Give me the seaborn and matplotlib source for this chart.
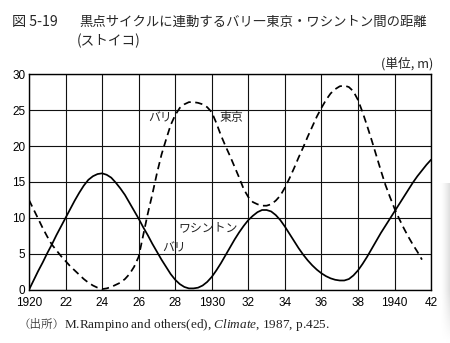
import matplotlib
matplotlib.use("Agg")
import matplotlib.pyplot as plt
import seaborn as sns
import numpy as np
import pandas as pd

# Paris–Tokyo and Paris–Washington distance (m), read every quarter year
years = [1920 + 0.25 * i for i in range(89)]
paris_tokyo = [
    12.5, 11.2, 9.9, 8.6, 7.4, 6.3, 5.5, 4.7, 4.0, 3.3,
    2.7, 2.1, 1.5, 1.0, 0.6, 0.3, 0.1, 0.2, 0.4, 0.7,
    1.0, 1.5, 2.2, 3.2, 4.6, 7.6, 10.6, 13.3, 16.2, 18.8,
    20.9, 22.9, 24.3, 25.3, 25.8, 26.1, 26.1, 26.0, 25.8, 25.4,
    24.7, 23.2, 21.5, 20.0, 18.6, 17.1, 15.6, 14.0, 12.9, 12.2,
    11.9, 11.7, 11.7, 11.9, 12.4, 13.1, 14.2, 15.5, 16.9, 18.4,
    19.8, 21.3, 22.7, 24.1, 25.3, 26.4, 27.3, 27.9, 28.3, 28.4,
    28.2, 27.6, 26.4, 24.7, 22.8, 20.8, 18.7, 16.6, 14.6, 12.9,
    11.3, 9.9, 8.6, 7.4, 6.3, 5.3, 4.2, None, None]
paris_washington = [
    0.0, 1.3, 2.6, 3.8, 5.1, 6.3, 7.6, 8.8, 10.0, 11.2,
    12.4, 13.5, 14.5, 15.3, 15.8, 16.1, 16.2, 16.0, 15.6, 14.9,
    14.1, 13.2, 12.1, 11.0, 9.9, 8.7, 7.6, 6.4, 5.3, 4.2,
    3.2, 2.2, 1.4, 0.8, 0.4, 0.2, 0.2, 0.3, 0.6, 1.1,
    1.8, 2.7, 3.7, 4.8, 5.9, 7.0, 8.0, 8.9, 9.7, 10.3,
    10.8, 11.1, 11.1, 10.9, 10.4, 9.7, 8.8, 7.8, 6.8, 5.8,
    4.9, 4.1, 3.4, 2.8, 2.3, 1.9, 1.6, 1.4, 1.3, 1.3,
    1.5, 2.0, 2.7, 3.6, 4.6, 5.7, 6.8, 7.9, 8.9, 9.9,
    10.9, 11.9, 12.9, 13.9, 14.9, 15.8, 16.6, 17.4, 18.1]

x_ticks = list(range(1920, 1943, 2))
x_labels = ["1920", "22", "24", "26", "28", "1930", "32", "34", "36",
            "38", "1940", "42"]
y_ticks = [0, 5, 10, 15, 20, 25, 30]

df = pd.DataFrame({
    "year": years * 2,
    "dist": paris_tokyo + paris_washington,
    "route": ["tokyo"] * len(years) + ["washington"] * len(years),
}).dropna()

sns.set_theme(style="white")
plt.rcParams["font.family"] = ["Liberation Sans", "Noto Sans CJK JP"]
plt.rcParams["mathtext.fontset"] = "custom"
plt.rcParams["mathtext.it"] = "Liberation Serif:italic"
plt.rcParams["mathtext.rm"] = "Liberation Serif"
cjk = ["Noto Sans CJK JP", "DejaVu Sans"]

fig = plt.figure(figsize=(4.5, 3.43), dpi=100)
ax = fig.add_axes([0.0644, 0.155, 0.8936, 0.629])

sns.lineplot(data=df, x="year", y="dist", style="route",
             dashes={"tokyo": (4.2, 2.6), "washington": ""},
             color="black", linewidth=1.25, legend=False, ax=ax)

ax.set_xlim(1920, 1942)
ax.set_ylim(0, 30)
ax.set_xticks(x_ticks)
ax.set_xticklabels(x_labels)
ax.set_yticks(y_ticks)
ax.tick_params(axis="both", length=0, labelsize=8.5, colors="black")
ax.tick_params(axis="x", pad=5)
ax.tick_params(axis="y", pad=2.5)
ax.grid(True, color="#111111", linewidth=0.8)
for s in ax.spines.values():
    s.set_color("black")
    s.set_linewidth(1.0)
ax.set_xlabel("")
ax.set_ylabel("")

# Curve labels
lab = dict(family=cjk, fontsize=8.6, va="center")
ax.text(1926.5, 23.9, "バリ", **lab)
ax.text(1930.4, 23.9, "東京", **lab)
ax.text(1928.2, 8.6, "ワシントン", **lab)
ax.text(1927.3, 5.8, "バリ", **lab)

# Title, unit and source
fig.text(12 / 450, 1 - 22 / 343, "図 5-19", family=cjk, fontsize=10.2,
         va="center")
fig.text(79 / 450, 1 - 22 / 343,
         "黒点サイクルに連動するバリ―東京・ワシントン間の距離",
         family=cjk, fontsize=9.6, va="center")
fig.text(77 / 450, 1 - 41 / 343, "(ストイコ)", family=cjk, fontsize=9.8,
         va="center")
fig.text(433 / 450, 1 - 64 / 343, "(単位, m)", family=cjk, fontsize=9.2,
         va="center", ha="right")

src_y = 1 - 325 / 343
fig.text(19 / 450, src_y, "（出所）",
         family=["Noto Serif CJK JP", "Noto Sans CJK JP"],
         fontsize=8.3, va="center", color="#333333")
fig.text(64 / 450, src_y,
         r"M.Rampino and others(ed), $Climate$, 1987, p.425.",
         family=["Liberation Serif", "DejaVu Serif"], fontsize=9.5,
         va="center", color="#222222")

# Greyish paper edge on the right
edge = np.linspace(0, 1, 40) ** 1.5
shade = np.tile(edge, (60, 1))
shade[:20] *= np.linspace(0, 1, 20)[:, None]
eax = fig.add_axes([440 / 450, 0, 10 / 450, 160 / 343])
eax.imshow(1 - 0.13 * shade[::-1], cmap="gray", vmin=0, vmax=1,
           aspect="auto", interpolation="bilinear")
eax.set_axis_off()

fig.savefig("out.png", dpi=100, facecolor="white")
